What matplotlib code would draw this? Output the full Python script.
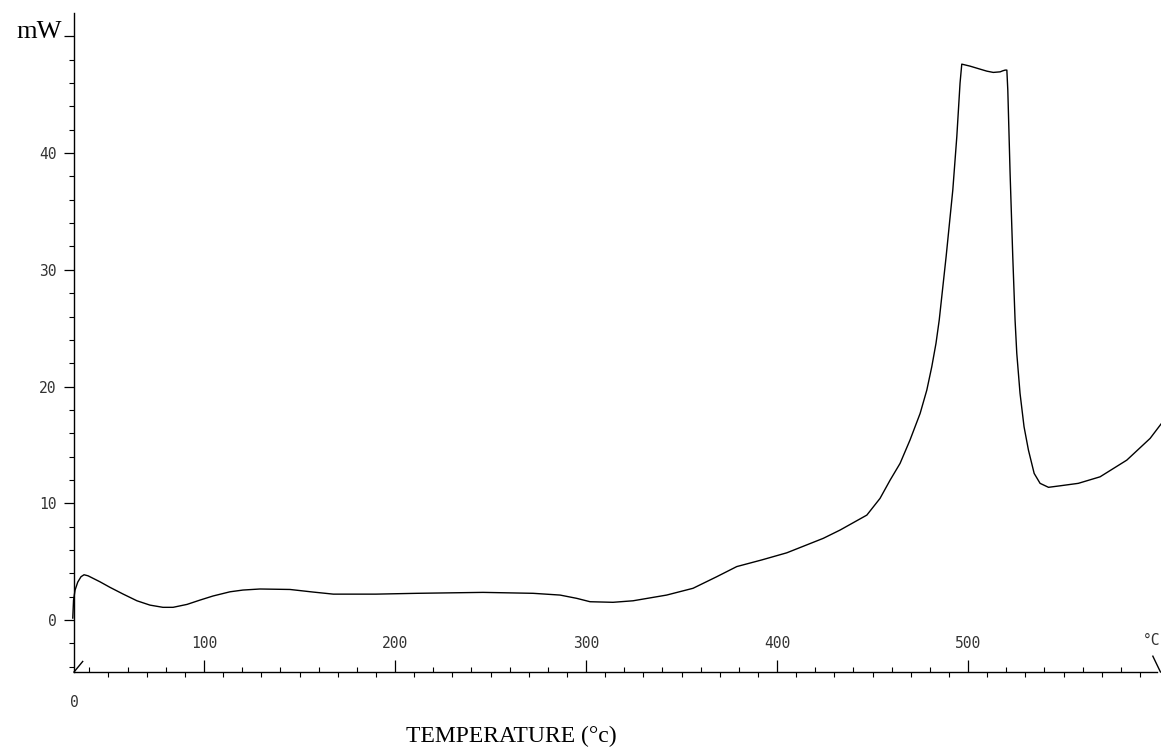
import matplotlib
matplotlib.use("Agg")
import matplotlib.pyplot as plt
from matplotlib.lines import Line2D

# ---- data ----
temperature = [31.3, 31.7, 32.5, 33.9, 35.6, 37.2, 39.3, 45.5, 50.8, 57.6, 64.9, 71.7,
               78.5, 83.8, 91.1, 97.9, 104.7, 113.6, 120.4, 129.3, 145.0, 157.0, 167.7,
               190.0, 211.4, 246.1, 272.3, 286.4, 295.1, 302.1, 314.1, 324.6, 342.2,
               356.0, 368.4, 378.9, 392.0, 405.1, 424.2, 433.0, 447.0, 453.9, 459.2,
               464.4, 469.6, 474.9, 478.4, 481.0, 483.2, 484.9, 488.5, 492.0, 494.1,
               495.8, 496.7, 501.0, 506.3, 509.8, 513.2, 516.8, 518.2, 519.4, 520.3,
               520.8, 522.0, 523.4, 524.6, 525.5, 527.2, 529.3, 531.6, 534.6, 537.7,
               542.1, 548.2, 557.7, 569.1, 583.1, 595.3, 601.0]
heat_flow = [0.17, 1.71, 2.57, 3.25, 3.71, 3.88, 3.79, 3.28, 2.80, 2.23, 1.65, 1.28,
             1.09, 1.09, 1.34, 1.71, 2.06, 2.42, 2.57, 2.66, 2.62, 2.40, 2.22,
             2.22, 2.29, 2.37, 2.29, 2.14, 1.86, 1.57, 1.52, 1.65, 2.14,
             2.72, 3.71, 4.58, 5.15, 5.76, 7.00, 7.71, 8.99, 10.42, 11.99,
             13.42, 15.42, 17.70, 19.70, 21.70, 23.70, 25.70, 31.12, 36.83, 41.40,
             46.00, 47.62, 47.45, 47.19, 47.02, 46.91, 46.96, 47.05, 47.11, 47.11,
             45.40, 38.26, 31.12, 25.70, 22.84, 19.42, 16.56, 14.56, 12.56, 11.71,
             11.37, 11.50, 11.71, 12.27, 13.70, 15.56, 16.79]

x_major = [100, 200, 300, 400, 500]
x_major_labels = ["100", "200", "300", "400", "500"]
x_minor_up = list(range(40, 600, 20))
x_minor_down = list(range(50, 600, 20))
y_major = [0, 10, 20, 30, 40, 50]
y_major_labels = ["0", "10", "20", "30", "40", ""]
y_minor = list(range(-4, 52, 2))

mono = "DejaVu Sans Mono"
serif = "Liberation Serif"
tick_color = "#333333"

fig = plt.figure(figsize=(11.61, 7.55), dpi=100)
ax = fig.add_axes([74 / 1161, 1 - 672 / 755, 1 - 74 / 1161, (672 - 13) / 755])

ax.plot(temperature, heat_flow, color="black", lw=1.0, clip_on=False,
        solid_joinstyle="round")

x_lo, x_hi = 31.94, 601.0
ax.set_xlim(x_lo, x_hi)
ax.set_ylim(-4.45, 52.0)

for s in ("top", "right"):
    ax.spines[s].set_visible(False)
ax.spines["bottom"].set_bounds(x_lo, 598.8)
ax.spines["left"].set_linewidth(1.0)
ax.spines["bottom"].set_linewidth(1.0)

# x ticks: majors pointing up, labels above the axis
ax.set_xticks(x_major, labels=x_major_labels)
ax.set_xticks(x_minor_up, minor=True)
ax.tick_params(axis="x", which="major", direction="in", length=8.5, width=0.9,
               pad=-26, labelsize=10.5, labelcolor=tick_color)
ax.tick_params(axis="x", which="minor", direction="in", length=3.5, width=0.8)
for lab in ax.get_xticklabels():
    lab.set_fontfamily(mono)

# alternating downward ticks
sec = ax.secondary_xaxis(0)
sec.set_xticks(x_minor_down)
sec.tick_params(axis="x", direction="out", length=3.5, width=0.8, labelbottom=False)
sec.spines["bottom"].set_visible(False)

# y ticks
ax.set_yticks(y_major, labels=y_major_labels)
ax.set_yticks(y_minor, minor=True)
ax.tick_params(axis="y", which="major", direction="out", length=7.5, width=0.9,
               pad=5, labelsize=10.5, labelcolor=tick_color)
ax.tick_params(axis="y", which="minor", direction="out", length=3.5, width=0.8)
for lab in ax.get_yticklabels():
    lab.set_fontfamily(mono)

# unit label at the top of the y axis
ax.annotate("mW", xy=(0, 50), xycoords=("axes fraction", "data"),
            xytext=(-8.5, -1), textcoords="offset points",
            ha="right", va="baseline", fontsize=19, family=serif)

# origin "0" under the axis and the unit at the right end
ax.annotate("0", xy=(0, 0), xycoords="axes fraction", xytext=(0, -22),
            textcoords="offset points", ha="center", va="center",
            fontsize=10.5, family=mono, color=tick_color)
ax.annotate("°C", xy=(597.5, 0), xycoords=("data", "axes fraction"), xytext=(-2, 23),
            textcoords="offset points", ha="center", va="center",
            fontsize=10.5, family=mono, color=tick_color)

# small plotter end marks
ax.add_line(Line2D([0, 0.008], [0, 0.016], transform=ax.transAxes, color="black",
                   lw=1.0, clip_on=False))
ax.add_line(Line2D([0.9925, 0.9995], [0.024, 0.0], transform=ax.transAxes, color="black",
                   lw=1.0, clip_on=False))

fig.text(511 / 1161, 1 - 736 / 755, "TEMPERATURE (°c)", ha="center", va="center",
         fontsize=17, family=serif)

fig.savefig("out.png", dpi=100)
